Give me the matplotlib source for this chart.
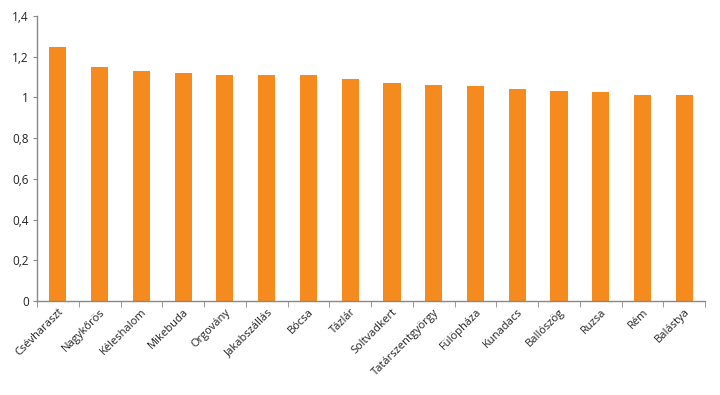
import matplotlib
matplotlib.use("Agg")
import matplotlib.pyplot as plt
import numpy as np

categories = ["Csévharaszt", "Nagykőrös", "Kéleshalom", "Mikebuda", "Orgovány",
              "Jakabszállás", "Bócsa", "Tázlár", "Soltvadkert", "Tatárszentgyörgy",
              "Fülöpháza", "Kunadacs", "Ballószög", "Ruzsa", "Rém", "Balástya"]
values = [1.25, 1.15, 1.13, 1.12, 1.11, 1.11, 1.11, 1.09, 1.07, 1.06,
          1.055, 1.04, 1.03, 1.025, 1.01, 1.01]
yticks = [0, 0.2, 0.4, 0.6, 0.8, 1.0, 1.2, 1.4]
ytick_labels = ["0", "0,2", "0,4", "0,6", "0,8", "1", "1,2", "1,4"]

plt.rcParams['font.family'] = ['Open Sans', 'DejaVu Sans']
fig = plt.figure(figsize=(7.2, 3.95), dpi=100)
ax = fig.add_axes([0.0514, 0.238, 0.928, 0.7215])

x = np.arange(len(categories))
ax.bar(x, values, width=0.41, color="#F58A1F", zorder=2)
ax.set_xlim(-0.5, len(categories) - 0.5)
ax.set_ylim(0, 1.4)
ax.set_yticks(yticks)
ax.set_yticklabels(ytick_labels, fontsize=8.5, color="#222222")
ax.set_xticks(x)
ax.set_xticklabels(categories, rotation=45, ha="right", rotation_mode="anchor",
                   fontsize=8, color="#222222")
ax.tick_params(axis="x", length=0, pad=4)
ax.set_xticks(np.arange(-0.5, len(categories), 1.0), minor=True)
ax.tick_params(axis="x", which="minor", length=4, color="#888888", direction="out")
ax.tick_params(axis="y", length=3, color="#888888", direction="out", pad=3)
for s in ["top", "right"]:
    ax.spines[s].set_visible(False)
for s in ["left", "bottom"]:
    ax.spines[s].set_color("#888888")
    ax.spines[s].set_linewidth(1.0)

fig.savefig("out.png", dpi=100)
